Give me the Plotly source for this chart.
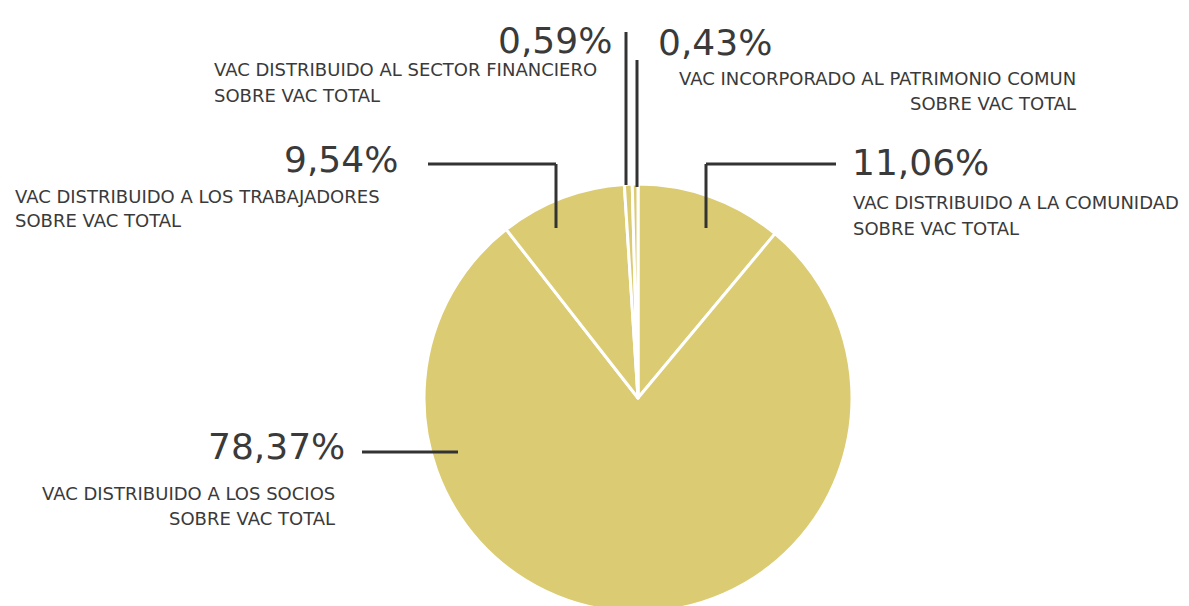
import plotly.graph_objects as go

categories = [
    "VAC DISTRIBUIDO A LA COMUNIDAD",
    "VAC DISTRIBUIDO A LOS SOCIOS",
    "VAC DISTRIBUIDO A LOS TRABAJADORES",
    "VAC DISTRIBUIDO AL SECTOR FINANCIERO",
    "VAC INCORPORADO AL PATRIMONIO COMUN",
]
values = [11.06, 78.37, 9.54, 0.59, 0.43]
pct_labels = ["11,06%", "78,37%", "9,54%", "0,59%", "0,43%"]
sub_label = "SOBRE VAC TOTAL"

W, H = 1189, 620
OFF = 8  # page body margin
FONT = "DejaVu Sans, sans-serif"
TXT = "#3a3a3a"
PIE = "#dbcb72"

def px(x):
    return (x - OFF) / W

def py(y):
    return 1 - (y - OFF) / H

cx, cy, r = 638, 398, 214

fig = go.Figure(go.Pie(
    labels=categories,
    values=values,
    sort=False,
    direction="clockwise",
    rotation=0,
    textinfo="none",
    marker=dict(colors=[PIE] * len(values), line=dict(color="white", width=3)),
    domain=dict(x=[px(cx - r), px(cx + r)], y=[py(cy + r), py(cy - r)]),
    showlegend=False,
))

ann = []

def add(text, x, y, size, xanchor):
    ann.append(dict(text=text, x=px(x), y=py(y), xref="paper", yref="paper",
                    xanchor=xanchor, yanchor="middle", showarrow=False,
                    font=dict(family=FONT, size=size, color=TXT)))

BIG, SMALL = 36, 18
# comunidad
add(pct_labels[0], 850, 162, BIG, "left")
add(categories[0], 851, 202, SMALL, "left")
add(sub_label, 851, 228, SMALL, "left")
# socios
add(pct_labels[1], 347, 446, BIG, "right")
add(categories[1], 337, 493, SMALL, "right")
add(sub_label, 337, 518, SMALL, "right")
# trabajadores
add(pct_labels[2], 400, 160, BIG, "right")
add(categories[2], 13, 196, SMALL, "left")
add(sub_label, 13, 221, SMALL, "left")
# financiero
add(pct_labels[3], 614, 40, BIG, "right")
add(categories[3], 212, 70, SMALL, "left")
add(sub_label, 212, 95, SMALL, "left")
# patrimonio
add(pct_labels[4], 656, 43, BIG, "left")
add(categories[4], 1078, 78, SMALL, "right")
add(sub_label, 1078, 104, SMALL, "right")

LINE = dict(color="#333333", width=3)
segments = [
    [(706, 228), (706, 164), (836, 164)],
    [(556, 228), (556, 164), (428, 164)],
    [(626, 185), (626, 32)],
    [(637, 187), (637, 60)],
    [(458, 452), (362, 452)],
]
shapes = []
for seg in segments:
    for (x0, y0), (x1, y1) in zip(seg[:-1], seg[1:]):
        shapes.append(dict(type="line", xref="paper", yref="paper",
                           x0=px(x0), y0=py(y0), x1=px(x1), y1=py(y1), line=LINE))

fig.update_layout(
    width=W, height=H,
    margin=dict(l=0, r=0, t=0, b=0),
    paper_bgcolor="white", plot_bgcolor="white",
    annotations=ann, shapes=shapes,
)

fig.write_html("out.html")
